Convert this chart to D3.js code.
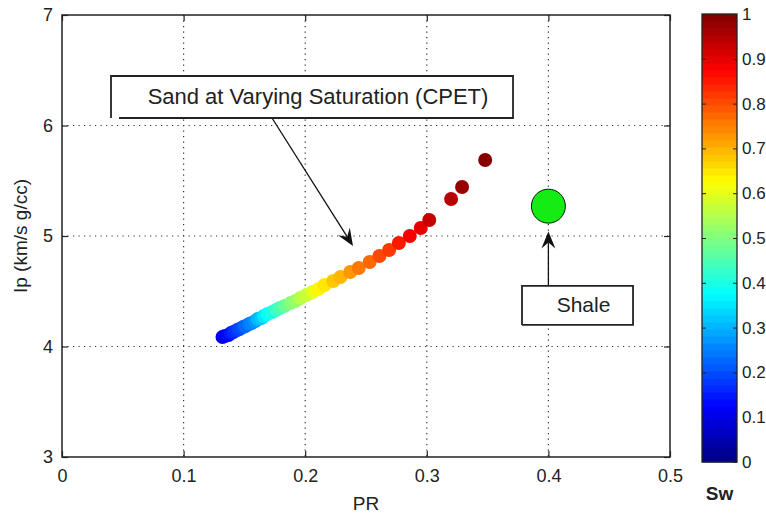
<!DOCTYPE html>
<html>
<head>
<meta charset="utf-8">
<script src="https://cdn.jsdelivr.net/npm/d3@7"></script>
<style>
  body { margin: 0; background: #fff; }
  text { font-family: "Liberation Sans", Arial, Helvetica, sans-serif; fill: #222; }
</style>
</head>
<body>
<div id="chart"></div>
<script>
// water saturation along the sand trend (colour)
const sw = [0.10, 0.12, 0.135, 0.15, 0.165, 0.18, 0.195, 0.21, 0.225, 0.24,
            0.255, 0.275, 0.30, 0.325, 0.35, 0.375, 0.40, 0.425, 0.45, 0.475,
            0.50, 0.525, 0.55, 0.575, 0.60, 0.625, 0.65, 0.675, 0.70, 0.725,
            0.75, 0.775, 0.80, 0.825, 0.85, 0.875, 0.90, 0.925, 0.95, 0.975, 1.00];
const pr = [0.132, 0.134, 0.137, 0.139, 0.141, 0.144, 0.146, 0.149, 0.151, 0.154,
            0.156, 0.159, 0.161, 0.164, 0.166, 0.169, 0.173, 0.176, 0.179, 0.183,
            0.188, 0.192, 0.196, 0.201, 0.206, 0.211, 0.216, 0.223, 0.229, 0.237,
            0.244, 0.253, 0.261, 0.269, 0.277, 0.286, 0.295, 0.302, 0.320, 0.329, 0.348];
const ip = [4.086, 4.095, 4.104, 4.122, 4.131, 4.149, 4.158, 4.176, 4.186, 4.204,
            4.213, 4.231, 4.249, 4.258, 4.276, 4.294, 4.312, 4.330, 4.348, 4.367,
            4.394, 4.412, 4.439, 4.466, 4.493, 4.520, 4.557, 4.593, 4.629, 4.674,
            4.710, 4.765, 4.819, 4.873, 4.937, 5.000, 5.072, 5.145, 5.335, 5.443, 5.688];

// the shale point
const shalePR = 0.40;
const shaleIp = 5.27;

const xTicks = [0, 0.1, 0.2, 0.3, 0.4, 0.5];
const yTicks = [3, 4, 5, 6, 7];
const cbTicks = [0, 0.1, 0.2, 0.3, 0.4, 0.5, 0.6, 0.7, 0.8, 0.9, 1];

const width = 766;
const height = 518;
const plot = { left: 62, right: 670, top: 15, bottom: 457 };
const bar = { left: 702, right: 737, top: 14, bottom: 462 };

// MATLAB style jet, 64 steps
function jet(t) {
  const k = Math.min(63, Math.max(0, Math.floor(t * 64)));
  const v = (k + 0.5) / 64;
  const c = (x) => Math.round(255 * Math.max(0, Math.min(1, 1.5 - Math.abs(4 * v - x))));
  return d3.rgb(c(3), c(2), c(1)).formatHex();
}

const svg = d3.select('#chart')
  .append('svg')
    .attr('width', width)
    .attr('height', height);

svg.append('rect').attr('width', width).attr('height', height).attr('fill', '#fff');

const scaleX = d3.scaleLinear().domain([0, 0.5]).range([plot.left, plot.right]);
const scaleY = d3.scaleLinear().domain([3, 7]).range([plot.bottom, plot.top]);
const scaleC = d3.scaleLinear().domain([0, 1]).range([bar.bottom, bar.top]);

// grid
const grid = svg.append('g')
  .attr('stroke', '#333')
  .attr('stroke-width', 1.2)
  .attr('stroke-dasharray', '1.2,4.3');

grid.selectAll('line.gx')
  .data(xTicks.slice(1, -1))
  .enter()
  .append('line')
    .attr('x1', (d) => scaleX(d)).attr('x2', (d) => scaleX(d))
    .attr('y1', plot.top).attr('y2', plot.bottom);

grid.selectAll('line.gy')
  .data(yTicks.slice(1, -1))
  .enter()
  .append('line')
    .attr('y1', (d) => scaleY(d)).attr('y2', (d) => scaleY(d))
    .attr('x1', plot.left).attr('x2', plot.right);

// sand points
const pts = sw.map((s, i) => ({ sw: s, pr: pr[i], ip: ip[i] }));

svg.append('g')
  .selectAll('circle')
  .data(pts)
  .enter()
  .append('circle')
    .attr('cx', (d) => scaleX(d.pr))
    .attr('cy', (d) => scaleY(d.ip))
    .attr('r', 7)
    .attr('fill', (d) => jet(d.sw));

// shale
svg.append('circle')
  .attr('cx', scaleX(shalePR))
  .attr('cy', scaleY(shaleIp))
  .attr('r', 17)
  .attr('fill', '#14ec14')
  .attr('stroke', '#111')
  .attr('stroke-width', 1);

// axes: labels on bottom/left, inward ticks on all four sides
function drawAxis(axis, transform, labels) {
  const g = svg.append('g')
    .attr('transform', transform)
    .call(axis);
  g.select('.domain').remove();
  g.selectAll('.tick line').attr('stroke', '#222').attr('stroke-width', 1.2);
  g.selectAll('text')
    .style('font-size', '18px')
    .attr('fill', '#222');
  if (!labels) { g.selectAll('text').remove(); }
  return g;
}

drawAxis(d3.axisBottom(scaleX).tickValues(xTicks).tickSize(-6).tickPadding(12).tickFormat((d) => String(d)),
  'translate(0,' + plot.bottom + ')', true);
drawAxis(d3.axisTop(scaleX).tickValues(xTicks).tickSize(-6),
  'translate(0,' + plot.top + ')', false);
drawAxis(d3.axisLeft(scaleY).tickValues(yTicks).tickSize(-6).tickPadding(9).tickFormat((d) => String(d)),
  'translate(' + plot.left + ',0)', true);
drawAxis(d3.axisRight(scaleY).tickValues(yTicks).tickSize(-6),
  'translate(' + plot.right + ',0)', false);

svg.append('rect')
  .attr('x', plot.left).attr('y', plot.top)
  .attr('width', plot.right - plot.left).attr('height', plot.bottom - plot.top)
  .attr('fill', 'none')
  .attr('stroke', '#222')
  .attr('stroke-width', 1.5);

svg.append('text')
  .attr('x', (plot.left + plot.right) / 2)
  .attr('y', 510)
  .attr('text-anchor', 'middle')
  .style('font-size', '19px')
  .text('PR');

svg.append('text')
  .attr('transform', 'translate(27,' + ((plot.top + plot.bottom) / 2) + ') rotate(-90)')
  .attr('text-anchor', 'middle')
  .style('font-size', '19px')
  .text('Ip (km/s g/cc)');

// annotations
function arrow(x1, y1, x2, y2) {
  const a = Math.atan2(y2 - y1, x2 - x1);
  const len = 17, half = 7, back = 11;
  const p = (d, o) => [x2 - d * Math.cos(a) - o * Math.sin(a), y2 - d * Math.sin(a) + o * Math.cos(a)];
  svg.append('line')
    .attr('x1', x1).attr('y1', y1)
    .attr('x2', p(back, 0)[0]).attr('y2', p(back, 0)[1])
    .attr('stroke', '#111').attr('stroke-width', 1.3);
  svg.append('path')
    .attr('d', 'M' + [x2, y2] + 'L' + p(len, half) + 'L' + p(back, 0) + 'L' + p(len, -half) + 'Z')
    .attr('fill', '#111');
}

function textBox(x0, x1, y0, y1, label, size, gap) {
  const bx0 = scaleX(x0), bx1 = scaleX(x1), by0 = scaleY(y0), by1 = scaleY(y1);
  svg.append('rect')
    .attr('x', bx0).attr('y', by0)
    .attr('width', bx1 - bx0).attr('height', by1 - by0)
    .attr('fill', '#fff');
  // outline, with the small break at the lower left corner
  svg.append('path')
    .attr('d', 'M' + [bx0 + gap, by1] + 'L' + [bx1, by1] + 'L' + [bx1, by0] + 'L' + [bx0, by0] + 'L' + [bx0, by1])
    .attr('fill', 'none')
    .attr('stroke', '#222')
    .attr('stroke-width', 1.8);
  svg.append('text')
    .attr('x', (bx0 + bx1) / 2 + 6)
    .attr('y', (by0 + by1) / 2 + 7)
    .attr('text-anchor', 'middle')
    .style('font-size', size + 'px')
    .text(label);
}

arrow(scaleX(0.1727), scaleY(6.068), scaleX(0.2393), scaleY(4.91));
textBox(0.0403, 0.3709, 6.448, 6.068, 'Sand at Varying Saturation (CPET)', 22, 8);

arrow(scaleX(0.4), scaleY(4.548), scaleX(0.4), scaleY(5.04));
textBox(0.3783, 0.4696, 4.548, 4.195, 'Shale', 21, 0);

// colorbar
const bands = d3.range(64);
svg.append('g')
  .selectAll('rect')
  .data(bands)
  .enter()
  .append('rect')
    .attr('x', bar.left)
    .attr('width', bar.right - bar.left)
    .attr('y', (k) => scaleC((k + 1) / 64))
    .attr('height', (k) => scaleC(k / 64) - scaleC((k + 1) / 64) + 0.5)
    .attr('fill', (k) => jet((k + 0.5) / 64));

const cbAxis = svg.append('g')
  .attr('transform', 'translate(' + bar.right + ',0)')
  .call(d3.axisRight(scaleC).tickValues(cbTicks).tickSize(-4).tickPadding(5)
    .tickFormat((d) => String(+d.toFixed(1))));
cbAxis.select('.domain').remove();
cbAxis.selectAll('.tick line').attr('stroke', '#222');
cbAxis.selectAll('text').style('font-size', '17px').attr('fill', '#222');

svg.append('g')
  .attr('transform', 'translate(' + bar.left + ',0)')
  .call(d3.axisLeft(scaleC).tickValues(cbTicks.slice(1, -1)).tickSize(-4).tickFormat(''))
  .call((g) => g.select('.domain').remove())
  .selectAll('.tick line').attr('stroke', '#222');

svg.append('rect')
  .attr('x', bar.left).attr('y', bar.top)
  .attr('width', bar.right - bar.left).attr('height', bar.bottom - bar.top)
  .attr('fill', 'none')
  .attr('stroke', '#222')
  .attr('stroke-width', 1.3);

svg.append('text')
  .attr('x', (bar.left + bar.right) / 2)
  .attr('y', 500)
  .attr('text-anchor', 'middle')
  .style('font-size', '19px')
  .style('font-weight', 'bold')
  .attr('fill', '#111')
  .text('Sw');
</script>
</body>
</html>
